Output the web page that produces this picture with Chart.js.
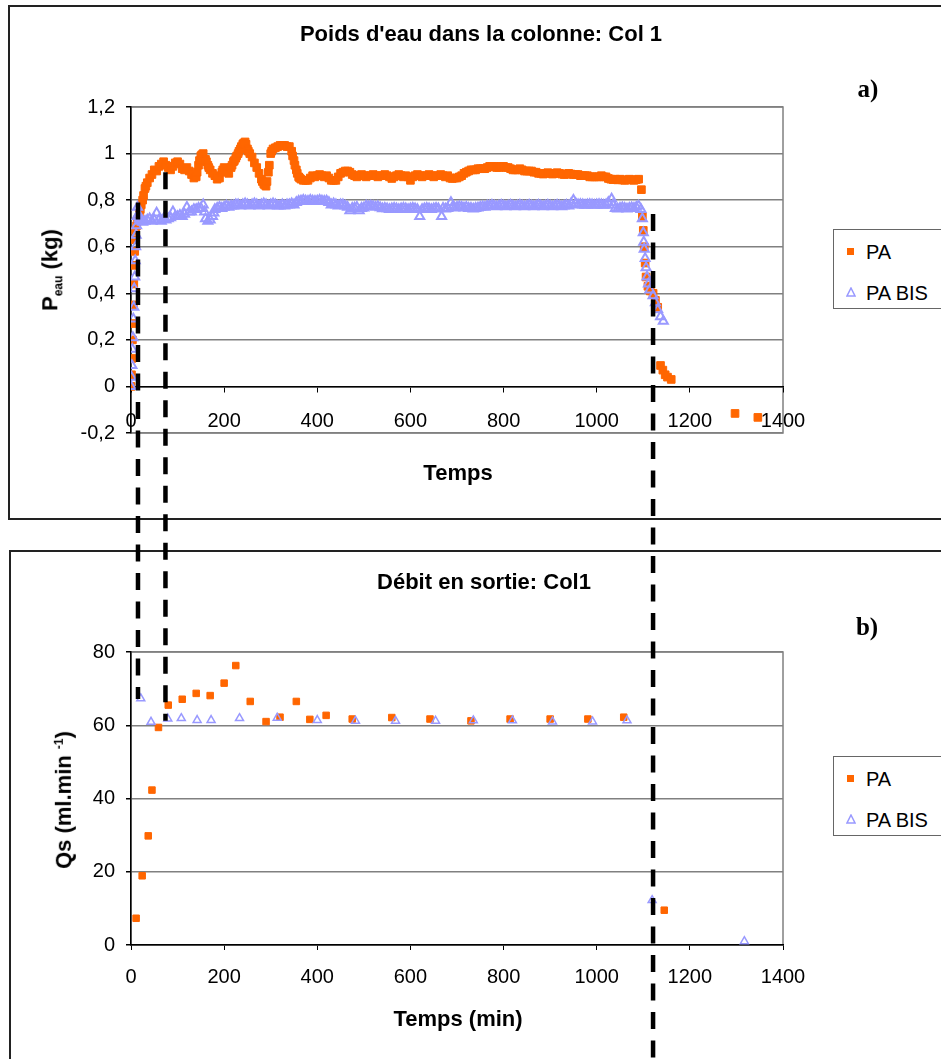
<!DOCTYPE html>
<html>
<head>
<meta charset="utf-8">
<script src="https://cdn.jsdelivr.net/npm/chart.js@4.4.1/dist/chart.umd.min.js"></script>
<style>
  body { margin: 0; background: #fff; }
  #page { position: relative; width: 941px; height: 1059px; overflow: hidden; background: #fff;
          font-family: "Liberation Sans", Arial, sans-serif; color: #000; }
  .box { position: absolute; border: 2px solid #222; }
  canvas { position: absolute; left: 0; }
  .txt { position: absolute; white-space: nowrap; line-height: 1; transform: translate(-50%, -50%); }
  .bold { font-weight: bold; font-size: 22px; }
  .tag { font-family: "Liberation Serif", "DejaVu Serif", serif; font-weight: bold; font-size: 25px; }
  .rot { transform: translate(-50%, -50%) rotate(-90deg); }
  .legend { position: absolute; width: 140px; height: 78px; border: 1.5px solid #666; background: #fff; }
  .legend .sq { position: absolute; left: 13px; width: 7px; height: 7px; background: #FF6600; }
  .legend svg { position: absolute; left: 12px; }
  .legend .lab { position: absolute; left: 32px; font-size: 20px; line-height: 1; }
</style>
</head>
<body>
<div id="page">
  <div class="box" style="left:8px;top:5px;width:960px;height:511px"></div>
  <div class="box" style="left:9px;top:550px;width:960px;height:560px"></div>

  <canvas id="chartA" width="941" height="520" style="top:0"></canvas>
  <canvas id="chartB" width="941" height="519" style="top:540px"></canvas>

  <div class="txt bold" style="left:481px;top:34px">Poids d'eau dans la colonne: Col 1</div>
  <div class="txt tag" style="left:868px;top:88px">a)</div>
  <div class="txt bold rot" style="left:52px;top:270px">P<sub style="font-size:12px">eau</sub> (kg)</div>
  <div class="txt bold" style="left:458px;top:473px">Temps</div>
  <div class="legend" style="left:833px;top:229px">
    <span class="sq" style="top:18px"></span><span class="lab" style="top:12px">PA</span>
    <svg width="10" height="10" style="top:57px"><polygon points="5,1 9,9 1,9" fill="none" stroke="#9999FF" stroke-width="1.5"/></svg>
    <span class="lab" style="top:53px">PA BIS</span>
  </div>

  <div class="txt bold" style="left:484px;top:582px">Débit en sortie: Col1</div>
  <div class="txt tag" style="left:867px;top:626px">b)</div>
  <div class="txt bold rot" style="left:64px;top:800px">Qs (ml.min <sup style="font-size:12px">-1</sup>)</div>
  <div class="txt bold" style="left:458px;top:1019px">Temps (min)</div>
  <div class="legend" style="left:833px;top:756px">
    <span class="sq" style="top:18px"></span><span class="lab" style="top:12px">PA</span>
    <svg width="10" height="10" style="top:57px"><polygon points="5,1 9,9 1,9" fill="none" stroke="#9999FF" stroke-width="1.5"/></svg>
    <span class="lab" style="top:53px">PA BIS</span>
  </div>

  <canvas id="overlay" width="941" height="1059" style="top:0;pointer-events:none"></canvas>
</div>

<script>
// a) poids d'eau (kg) en fonction du temps (min) : [temps, poids]
const paWeight = [
  [0,0],[1,0.05],[2,0.12],[3,0.2],[4,0.27],[5,0.35],[6,0.44],[7,0.52],[8,0.58],[9,0.63],
  [10,0.67],[12,0.69],[14,0.71],[16,0.72],[18,0.74],[20,0.76],[22,0.78],[25,0.8],[27,0.82],
  [30,0.85],[32,0.86],[35,0.875],
  [40,0.895],[45,0.91],[50,0.93],[55,0.925],[60,0.945],[65,0.955],[70,0.965],[75,0.95],
  [80,0.94],[85,0.93],[90,0.945],[95,0.96],[100,0.965],[105,0.955],[110,0.935],[115,0.93],
  [120,0.94],[125,0.925],[130,0.91],[135,0.895],[140,0.9],[142,0.92],[145,0.95],[147,0.97],
  [150,0.99],[152,0.995],[155,1.0],[160,0.975],[162,0.965],[165,0.95],[167,0.94],[170,0.93],
  [175,0.915],[180,0.905],[185,0.89],[190,0.895],[195,0.92],[197,0.93],[200,0.94],
  [205,0.925],[210,0.915],[215,0.94],[217,0.95],[220,0.965],[222,0.97],[225,0.98],[227,0.99],
  [230,1.0],[232,1.01],[235,1.02],[237,1.03],[240,1.04],[242,1.045],[245,1.05],[247,1.04],
  [250,1.02],[252,1.01],[255,1.0],[260,0.985],[265,0.96],
  [270,0.94],[275,0.915],[280,0.89],[282,0.88],[285,0.87],[287,0.865],[290,0.86],[292,0.88],
  [295,0.92],[297,0.95],[300,1.0],[302,1.01],[305,1.02],
  [310,1.025],[315,1.03],[320,1.035],[325,1.035],[330,1.035],[335,1.03],[340,1.03],
  [345,1.01],[347,0.99],[350,0.97],[352,0.95],[355,0.93],[357,0.915],[360,0.9],[362,0.895],
  [365,0.89],[370,0.885],[375,0.885],[380,0.885],
  [385,0.895],[390,0.905],[395,0.9],[400,0.905],[405,0.91],[410,0.905],[415,0.9],[420,0.905],
  [425,0.895],[430,0.885],[435,0.885],[440,0.885],[445,0.9],[450,0.915],[455,0.92],
  [460,0.925],[465,0.925],[470,0.92],[475,0.91],[480,0.905],[485,0.9],[490,0.905],[495,0.91],
  [500,0.905],[505,0.9],[510,0.905],[515,0.905],[520,0.91],[525,0.905],[530,0.9],[535,0.905],
  [540,0.905],[545,0.91],[550,0.905],[555,0.9],[560,0.893],[565,0.9],[570,0.905],[575,0.91],
  [580,0.905],[585,0.9],[590,0.905],[595,0.9],[600,0.885],[605,0.9],[610,0.905],[615,0.91],
  [620,0.905],[625,0.9],[630,0.905],[635,0.905],[640,0.91],[645,0.905],[650,0.9],[655,0.905],
  [660,0.905],[665,0.91],[670,0.905],[675,0.9],[680,0.905],[685,0.895],[690,0.893],
  [695,0.895],[700,0.895],[705,0.9],[710,0.905],[715,0.915],[720,0.92],[725,0.925],
  [730,0.93],[735,0.93],[740,0.93],[745,0.935],[750,0.935],[755,0.935],[760,0.935],
  [765,0.94],[770,0.945],[775,0.945],[780,0.945],[785,0.94],[790,0.94],[795,0.945],
  [800,0.945],[805,0.94],[810,0.94],[815,0.935],[820,0.93],[825,0.93],[830,0.93],[835,0.935],
  [840,0.93],[845,0.925],[850,0.925],[855,0.925],[860,0.925],[865,0.92],[870,0.92],
  [875,0.915],[880,0.915],[885,0.912],[890,0.915],[895,0.918],[900,0.915],[905,0.912],
  [910,0.915],[915,0.918],[920,0.915],[925,0.912],[930,0.91],[935,0.912],[940,0.915],
  [945,0.912],[950,0.91],[955,0.91],[960,0.91],[965,0.905],[970,0.905],[975,0.905],
  [980,0.905],[985,0.9],[990,0.9],[995,0.9],[1000,0.9],[1005,0.9],[1010,0.905],[1015,0.9],
  [1020,0.9],[1025,0.893],[1030,0.89],[1035,0.888],[1040,0.89],[1045,0.887],[1050,0.89],
  [1055,0.887],[1060,0.885],[1065,0.887],[1070,0.89],[1075,0.887],[1080,0.885],[1085,0.888],
  [1090,0.89],[1096,0.845],[1098,0.73],[1100,0.67],[1102,0.6],[1104,0.53],[1106,0.47],
  [1110,0.43],[1115,0.41],[1121,0.4],[1126,0.37],[1131,0.34],[1137,0.09],[1142,0.07],
  [1147,0.05],[1152,0.04],[1160,0.03],[1297,-0.116],[1346,-0.133]
];
const bisWeight = [
  [0,0],[1,0.04],[2,0.09],[3,0.16],[4,0.21],[5,0.29],[6,0.34],[7,0.42],[8,0.47],[9,0.54],
  [10,0.6],[11,0.65],[12,0.69],[13,0.73],[14,0.77],[16,0.74],[18,0.72],[20,0.71],[25,0.705],
  [30,0.71],[35,0.715],[40,0.72],[45,0.71],[50,0.715],[55,0.745],[60,0.715],[65,0.71],
  [70,0.72],[75,0.715],[80,0.72],[85,0.725],[90,0.75],[95,0.73],[100,0.73],[105,0.735],
  [110,0.73],[115,0.74],[120,0.77],[125,0.75],[130,0.75],[135,0.76],[140,0.76],[145,0.765],
  [150,0.765],[155,0.78],[158,0.75],[160,0.72],[165,0.71],[170,0.715],[175,0.73],[178,0.745],
  [180,0.76],[185,0.765],[190,0.77],[195,0.765],[200,0.77],[205,0.775],[210,0.77],[215,0.775],
  [220,0.775],[225,0.78],[230,0.78],[235,0.775],[240,0.78],[245,0.785],[250,0.78],
  [255,0.775],[260,0.78],[265,0.785],[270,0.78],[275,0.775],[280,0.78],[285,0.785],
  [290,0.78],[295,0.775],[300,0.78],[305,0.785],[310,0.78],[315,0.775],[320,0.775],
  [325,0.78],[330,0.775],[335,0.78],[340,0.78],[345,0.785],[350,0.78],[355,0.79],
  [360,0.795],[365,0.797],[370,0.8],[375,0.797],[380,0.795],[385,0.8],[390,0.797],
  [395,0.795],[400,0.797],[405,0.8],[410,0.797],[415,0.795],[420,0.797],[425,0.79],
  [430,0.78],[435,0.785],[440,0.78],[445,0.775],[450,0.78],[455,0.78],[460,0.775],
  [465,0.77],[470,0.755],[475,0.765],[480,0.767],[485,0.77],[490,0.755],[495,0.765],
  [500,0.767],[505,0.775],[510,0.773],[515,0.775],[520,0.773],[525,0.77],[530,0.773],
  [535,0.768],[540,0.763],[545,0.765],[550,0.763],[555,0.76],[560,0.763],[565,0.765],
  [570,0.763],[575,0.76],[580,0.763],[585,0.765],[590,0.763],[595,0.76],[600,0.763],
  [605,0.765],[610,0.763],[615,0.76],[620,0.73],[625,0.76],[630,0.763],[635,0.765],
  [640,0.763],[645,0.76],[650,0.763],[655,0.765],[660,0.763],[667,0.73],[670,0.765],
  [675,0.762],[680,0.765],[687,0.79],[690,0.77],[695,0.767],[700,0.77],[705,0.772],
  [710,0.77],[715,0.767],[720,0.77],[725,0.765],[730,0.765],[735,0.762],[740,0.765],
  [745,0.767],[750,0.77],[755,0.772],[760,0.77],[765,0.775],[770,0.775],[775,0.778],
  [780,0.775],[785,0.772],[790,0.775],[795,0.778],[800,0.775],[805,0.772],[810,0.775],
  [815,0.778],[820,0.775],[825,0.772],[830,0.775],[835,0.778],[840,0.775],[845,0.772],
  [850,0.775],[855,0.778],[860,0.775],[865,0.772],[870,0.775],[875,0.778],[880,0.775],
  [885,0.772],[890,0.775],[895,0.778],[900,0.775],[905,0.772],[910,0.775],[915,0.778],
  [920,0.775],[925,0.772],[930,0.775],[935,0.778],[940,0.775],[945,0.785],[950,0.8],
  [955,0.785],[960,0.78],[965,0.782],[970,0.78],[975,0.778],[980,0.78],[985,0.782],
  [990,0.78],[995,0.778],[1000,0.78],[1005,0.782],[1010,0.78],[1015,0.778],[1020,0.78],
  [1025,0.79],[1032,0.805],[1035,0.78],[1040,0.765],[1045,0.762],[1050,0.765],[1055,0.768],
  [1060,0.765],[1065,0.762],[1070,0.765],[1075,0.768],[1080,0.765],[1085,0.77],[1090,0.775],
  [1095,0.76],[1098,0.72],[1100,0.66],[1101,0.62],[1102,0.59],[1104,0.55],[1106,0.51],
  [1108,0.47],[1111,0.44],[1114,0.415],[1121,0.39],[1126,0.36],[1131,0.33],[1137,0.3],
  [1143,0.28]
];

// b) debit en sortie (ml/min) : [temps, debit]
const paFlow = [
  [11,7.3],[24,18.9],[37,29.8],[45,42.3],[59,59.4],[80,65.5],[110,67.1],[140,68.7],
  [170,68.1],[200,71.5],[225,76.3],[256,66.5],[290,61.0],[320,62.2],[355,66.5],[384,61.6],
  [419,62.7],[475,61.7],[560,62.1],[642,61.7],[730,61.2],[814,61.7],[900,61.7],[981,61.7],
  [1058,62.2],[1145,9.5]
];
const bisFlow = [
  [21,67.3],[43,60.9],[79,61.8],[108,61.9],[142,61.4],[172,61.4],[233,61.9],[314,62.0],
  [400,61.4],[482,61.2],[568,61.2],[654,61.2],[735,61.3],[819,61.3],[905,61.0],[991,61.0],
  [1065,61.3],[1119,12.2],[1317,1.0]
];

const yTicksA = ['-0,2', '0', '0,2', '0,4', '0,6', '0,8', '1', '1,2'];

// traits verticaux en pointilles : temps, haut (kg, graphe a), bas (ml/min, graphe b)
const markTimes = [15, 74, 1121];
const markTopKg = [0.79, 0.92, 0.74];
const markEndFlow = [67.2, 61.2, -40];

const toXY = arr => arr.map(p => ({ x: p[0], y: p[1] }));

const ORANGE = '#FF6600';
const LILAS = '#9999FF';
const tickFont = { family: 'Liberation Sans, Arial, sans-serif', size: 20 };

const plotFrame = {
  id: 'plotFrame',
  beforeDraw(chart) {
    const a = chart.chartArea;
    const ctx = chart.ctx;
    ctx.save();
    ctx.strokeStyle = '#808080';
    ctx.lineWidth = 1.5;
    ctx.strokeRect(a.left, a.top, a.right - a.left, a.bottom - a.top);
    ctx.restore();
  }
};

function datasets(pa, bis, rPa, rBis, wBis) {
  return [
    { label: 'PA', data: toXY(pa), pointStyle: 'rect', pointRadius: rPa,
      backgroundColor: ORANGE, borderColor: ORANGE, borderWidth: 1, order: 2 },
    { label: 'PA BIS', data: toXY(bis), pointStyle: 'triangle', pointRadius: rBis,
      backgroundColor: 'rgba(255,255,255,0)', borderColor: LILAS, borderWidth: wBis, order: 1 }
  ];
}

const chartA = new Chart(document.getElementById('chartA'), {
  type: 'scatter',
  data: { datasets: datasets(paWeight, bisWeight, 5.4, 5.2, 2) },
  options: {
    responsive: false,
    animation: false,
    layout: { padding: { left: 71, right: 158, top: 107, bottom: 87 } },
    plugins: { legend: { display: false }, title: { display: false }, tooltip: { enabled: false } },
    scales: {
      x: {
        type: 'linear', min: 0, max: 1400, position: { y: 0 },
        afterFit(s) { s.height = 0; s.paddingLeft = 0; s.paddingRight = 0; },
        ticks: { stepSize: 200, autoSkip: false, maxRotation: 0, font: tickFont, color: '#000',
                 padding: 18, callback: v => String(v) },
        grid: { drawOnChartArea: false, tickLength: 5, tickColor: '#000' },
        border: { color: '#000', width: 1.5 }
      },
      y: {
        min: -0.2, max: 1.2,
        afterFit(s) { s.width = 60; s.paddingTop = 0; s.paddingBottom = 0; },
        ticks: { stepSize: 0.2, font: tickFont, color: '#000', padding: 11,
                 callback: (v, i) => yTicksA[i] },
        grid: { color: '#808080', lineWidth: 1.5, tickLength: 5, tickColor: '#000' },
        border: { color: '#000', width: 1.5 }
      }
    }
  },
  plugins: [plotFrame]
});

const chartB = new Chart(document.getElementById('chartB'), {
  type: 'scatter',
  data: { datasets: datasets(paFlow, bisFlow, 4.6, 4.6, 1.5) },
  options: {
    responsive: false,
    animation: false,
    layout: { padding: { left: 71, right: 158, top: 112, bottom: 54 } },
    plugins: { legend: { display: false }, title: { display: false }, tooltip: { enabled: false } },
    scales: {
      x: {
        type: 'linear', min: 0, max: 1400, position: 'bottom',
        afterFit(s) { s.height = 60; s.paddingLeft = 0; s.paddingRight = 0; },
        ticks: { stepSize: 200, autoSkip: false, maxRotation: 0, font: tickFont, color: '#000',
                 padding: 15, callback: v => String(v) },
        grid: { drawOnChartArea: false, tickLength: 5, tickColor: '#000' },
        border: { color: '#000', width: 1.5 }
      },
      y: {
        min: 0, max: 80,
        afterFit(s) { s.width = 60; s.paddingTop = 0; s.paddingBottom = 0; },
        ticks: { stepSize: 20, font: tickFont, color: '#000', padding: 11 },
        grid: { color: '#808080', lineWidth: 1.5, tickLength: 5, tickColor: '#000' },
        border: { color: '#000', width: 1.5 }
      }
    }
  },
  plugins: [plotFrame]
});

// pointilles noirs reliant les deux graphes
const octx = document.getElementById('overlay').getContext('2d');
const offsetB = 540;
octx.strokeStyle = '#000';
octx.lineWidth = 4.5;
octx.setLineDash([17, 11.5]);
markTimes.forEach((t, i) => {
  const x = chartA.scales.x.getPixelForValue(t);
  const y1 = chartA.scales.y.getPixelForValue(markTopKg[i]);
  const y2 = offsetB + chartB.scales.y.getPixelForValue(markEndFlow[i]);
  octx.beginPath();
  octx.moveTo(x, y1);
  octx.lineTo(x, y2);
  octx.stroke();
});
</script>
</body>
</html>
